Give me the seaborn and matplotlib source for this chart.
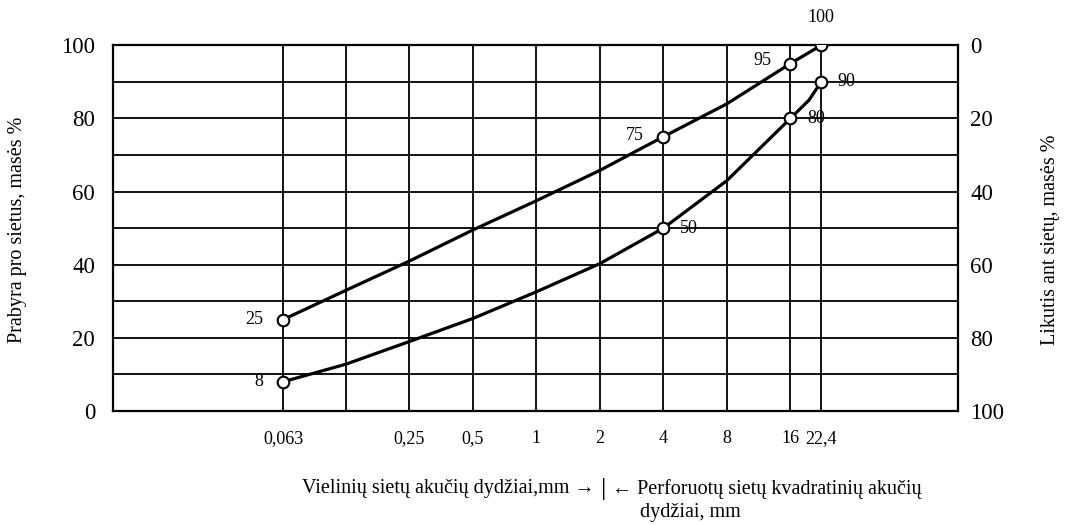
import matplotlib
matplotlib.use("Agg")
import matplotlib.pyplot as plt
from matplotlib.ticker import MultipleLocator, FixedLocator, NullLocator
import seaborn as sns
import pandas as pd

# Sieve opening sizes (mm) and tick labels
sizes = [0.063, 0.125, 0.25, 0.5, 1, 2, 4, 8, 16, 22.4]
size_labels = ["0,063", "", "0,25", "0,5", "1", "2", "4", "8", "16", "22,4"]

# Upper grading limit: passing, % by mass
upper_sizes = [0.063, 0.125, 0.25, 0.5, 1, 2, 4, 8, 16, 22.4]
upper_pass = [25, 33, 41, 49.5, 57.5, 65.8, 75, 84, 95, 100]

# Lower grading limit: passing, % by mass
lower_sizes = [0.063, 0.125, 0.25, 0.5, 1, 2, 4, 8, 16, 19.6, 22.4]
lower_pass = [8, 12.8, 19, 25.3, 32.6, 40.3, 50, 63, 80, 85, 90]

# Control points drawn as open circles with their values
upper_marked = [(0.063, 25), (4, 75), (16, 95), (22.4, 100)]
lower_marked = [(0.063, 8), (4, 50), (16, 80), (22.4, 90)]

# label offsets in points (dx, dy, horizontal alignment)
upper_offsets = [(-14, 0, "right"), (-14, 1, "right"), (-14, 2, "right"), (0, 20, "center")]
lower_offsets = [(-14, 0, "right"), (12, 0, "left"), (12, 0, "left"), (12, 0, "left")]

sns.set_theme(style="white")
plt.rcParams["font.family"] = ["Liberation Serif", "DejaVu Serif"]
plt.rcParams["text.color"] = "black"

fig = plt.figure(figsize=(10.69, 5.25), dpi=100)
ax = fig.add_axes([113.3 / 1069, 1 - 411 / 525, (957.7 - 113.3) / 1069, (411 - 45.3) / 525])

ax.set_xscale("log", base=2)
ax.set_xlim(0.009867, 99.4)
ax.set_ylim(0, 100)

# grid
ax.xaxis.set_major_locator(FixedLocator(sizes))
ax.xaxis.set_minor_locator(NullLocator())
ax.set_xticklabels(size_labels)
ax.yaxis.set_major_locator(MultipleLocator(20))
ax.yaxis.set_minor_locator(MultipleLocator(10))
ax.grid(True, axis="x", which="major", color="black", linewidth=1.3)
ax.grid(True, axis="y", which="both", color="black", linewidth=1.3)
ax.set_axisbelow(True)

for sp in ax.spines.values():
    sp.set_color("black")
    sp.set_linewidth(1.6)

# curves
df_up = pd.DataFrame({"size": upper_sizes, "pass": upper_pass})
df_lo = pd.DataFrame({"size": lower_sizes, "pass": lower_pass})
sns.lineplot(data=df_up, x="size", y="pass", ax=ax, color="black", linewidth=2.3,
             estimator=None, sort=False, zorder=3)
sns.lineplot(data=df_lo, x="size", y="pass", ax=ax, color="black", linewidth=2.3,
             estimator=None, sort=False, zorder=3)

marked = pd.DataFrame(upper_marked + lower_marked, columns=["size", "pass"])
sns.scatterplot(data=marked, x="size", y="pass", ax=ax, s=70, marker="o",
                facecolor="white", edgecolor="black", linewidth=1.5, zorder=4)

for (x, y), (dx, dy, ha) in zip(upper_marked + lower_marked, upper_offsets + lower_offsets):
    ax.annotate(f"{y:g}", (x, y), xytext=(dx, dy), textcoords="offset points",
                ha=ha, va="center", fontsize=13, zorder=5)

ax.set_xlabel("")
ax.set_ylabel("")
ax.tick_params(axis="both", which="both", length=0)
ax.tick_params(axis="x", pad=14, labelsize=13, colors="black")
ax.tick_params(axis="y", pad=13, labelsize=16.5, colors="black")

# right axis: residue on sieves
ax2 = ax.twinx()
ax2.set_ylim(100, 0)
ax2.yaxis.set_major_locator(MultipleLocator(20))
ax2.tick_params(axis="y", which="both", length=0, pad=9, labelsize=16.5, colors="black")
for sp in ax2.spines.values():
    sp.set_visible(False)
ax2.grid(False)

fig.text(18 / 1069, 1 - 230 / 525, "Prabyra pro sietus, masės %", rotation=90,
         ha="center", va="center", fontsize=14.5)
fig.text(1050 / 1069, 1 - 240 / 525, "Likutis ant sietų, masės %", rotation=90,
         ha="center", va="center", fontsize=14.5)

fig.text(594 / 1069, 1 - 489 / 525, "Vielinių sietų akučių dydžiai,mm →",
         ha="right", va="center", fontsize=14.5)
fig.text(604 / 1069, 1 - 489 / 525, "|", ha="center", va="center", fontsize=19)
fig.text(612 / 1069, 1 - 489 / 525, "← Perforuotų sietų kvadratinių akučių",
         ha="left", va="center", fontsize=14.5)
fig.text(640 / 1069, 1 - 513 / 525, "dydžiai, mm", ha="left", va="center", fontsize=14.5)

fig.savefig("out.png", dpi=100, facecolor="white")
